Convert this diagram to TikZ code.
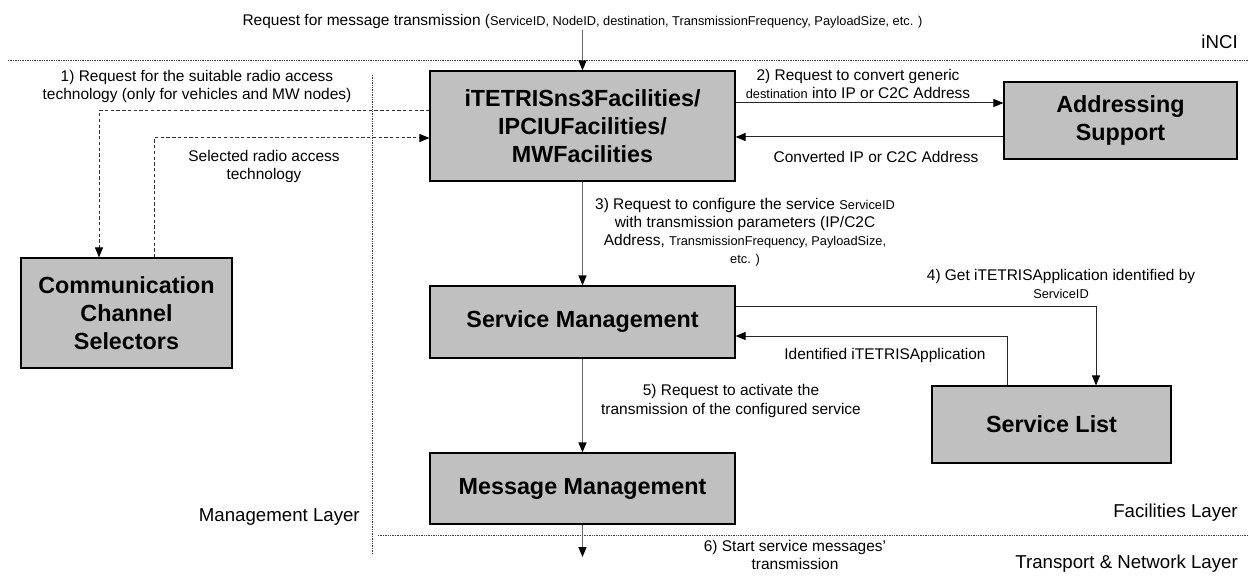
\documentclass[tikz,border=0pt]{standalone}
\usepackage{fontspec}
\setmainfont{Liberation Sans}
\usetikzlibrary{arrows.meta,calc}
\newcommand{\smtxt}[1]{{\fontsize{9.6}{13.5}\selectfont #1}}
\definecolor{boxgray}{RGB}{192,192,192}
\definecolor{linegray}{RGB}{105,105,105}
\begin{document}
\begin{tikzpicture}[x=0.75pt,y=-0.75pt,
  box/.style={draw=black, fill=boxgray, line width=0.9pt, inner sep=0pt, align=center,
    font=\fontsize{17.5}{20.8}\selectfont\bfseries},
  lbl/.style={align=center, inner sep=0pt, font=\fontsize{11.6}{13.5}\selectfont},
  layerlbl/.style={inner sep=0pt, font=\fontsize{14}{16}\selectfont},
  conn/.style={line width=0.75pt, draw=black!85, -{Triangle[length=7.5pt,width=6pt,color=black]}},
  vconn/.style={conn, draw=linegray, line width=1pt},
  dconn/.style={conn, draw=black!80, dash pattern=on 2.5pt off 1.8pt},
  sepline/.style={line width=0.45pt, dash pattern=on 1pt off 0.8pt, draw=black!75}]
\useasboundingbox (0,0) rectangle (1249,577);

% layer separators
\draw[sepline] (8,60) -- (1249,60);
\draw[sepline] (378,535) -- (1249,535);
\draw[sepline] (372,75) -- (372,555);

% boxes
\node[box, minimum width=228.75pt, minimum height=82.5pt] (main) at (582.5,126)
  {iTETRISns3Facilities/\\IPCIUFacilities/\\MWFacilities};
\node[box, minimum width=174.75pt, minimum height=57.75pt] (as) at (1120.5,120.5)
  {Addressing\\Support};
\node[box, minimum width=158.25pt, minimum height=82.5pt] (ccs) at (126.5,313)
  {Communication\\Channel\\Selectors};
\node[box, minimum width=228.75pt, minimum height=54pt] (sm) at (582.5,322)
  {Service Management};
\node[box, minimum width=228.75pt, minimum height=53.25pt] (mm) at (582.5,488.5)
  {Message Management};
\node[box, minimum width=179.25pt, minimum height=57.75pt] (sl) at (1051.5,424.5)
  {Service List};

% texts
\node[lbl] (toptext) at (582.5,22)
  {Request for message transmission (\smtxt{ServiceID, NodeID, destination, TransmissionFrequency, PayloadSize, etc. )}};
\node[layerlbl, anchor=east] (inci) at (1238,42) {iNCI};
\node[lbl] (l1) at (197,86.5)
  {1) Request for the suitable radio access\\technology (only for vehicles and MW nodes)};
\node[lbl] (sel) at (264,167) {Selected radio access\\technology};
\node[lbl] (l2) at (858,84)
  {2) Request to convert generic\\\smtxt{destination} into IP or C2C Address};
\node[lbl] (conv) at (876,157) {Converted IP or C2C Address};
\node[lbl] (l3) at (745,232)
  {3) Request to configure the service \smtxt{ServiceID}\\with transmission parameters (IP/C2C\\Address, \smtxt{TransmissionFrequency, PayloadSize,}\\\smtxt{etc. )}};
\node[lbl] (l4) at (1061,284)
  {4) Get iTETRISApplication identified by\\\smtxt{ServiceID}};
\node[lbl] (ident) at (885,355) {Identified iTETRISApplication};
\node[lbl] (l5) at (731,401)
  {5) Request to activate the\\transmission of the configured service};
\node[layerlbl, anchor=east] (mgmt) at (360,517) {Management Layer};
\node[layerlbl, anchor=east] (fac) at (1238,513) {Facilities Layer};
\node[lbl] (l6) at (795,555) {6) Start service messages'\\transmission};
\node[layerlbl, anchor=east] (tnl) at (1238,564) {Transport \& Network Layer};

% helper coordinates
\coordinate (d1) at (99,111);
\coordinate (d2) at (154,138);
\coordinate (a2) at (0,103);
\coordinate (a3) at (0,137);
\coordinate (c4) at (1096,306);
\coordinate (c5) at (1007,336);
\coordinate (out) at (582.5,557);
\coordinate (topin) at (582.5,30);

% connectors
\draw[vconn] (topin) -- (main.north);
\draw[dconn] (main.west |- d1) -| (ccs.north -| d1);
\draw[dconn] (ccs.north -| d2) |- (main.west |- d2);
\draw[conn] (main.east |- a2) -- (as.west |- a2);
\draw[conn] (as.west |- a3) -- (main.east |- a3);
\draw[vconn] (main.south) -- (sm.north);
\draw[conn] (sm.east |- c4) -| (sl.north -| c4);
\draw[conn] (sl.north -| c5) |- (sm.east |- c5);
\draw[vconn] (sm.south) -- (mm.north);
\draw[vconn] (mm.south) -- (out);
\end{tikzpicture}
\end{document}
